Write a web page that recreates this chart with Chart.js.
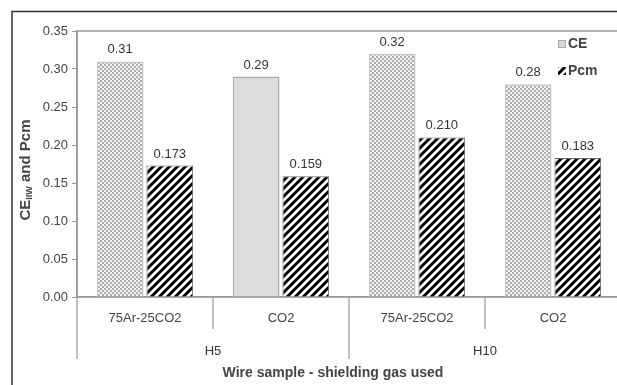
<!DOCTYPE html>
<html>
<head>
<meta charset="utf-8">
<script src="https://cdn.jsdelivr.net/npm/chart.js@4"></script>
<style>
  html, body { margin: 0; padding: 0; background: #fff; overflow: hidden; }
  #wrap { width: 666px; height: 385px; }
</style>
</head>
<body>
<div id="wrap"><canvas id="chart" width="666" height="385"></canvas></div>
<script>
  const groups = ["H5", "H10"];
  const gases = ["75Ar-25CO2", "CO2", "75Ar-25CO2", "CO2"];
  const ceValues = [0.31, 0.29, 0.32, 0.28];
  const pcmValues = [0.173, 0.159, 0.210, 0.183];
  const ceFill = ["dots", "plain", "dots", "dots"];
  const yMax = 0.35, yStep = 0.05;

  const FONT = "Arial, 'Liberation Sans', sans-serif";

  function dotPattern() {
    const c = document.createElement("canvas");
    c.width = 4; c.height = 4;
    const g = c.getContext("2d");
    g.fillStyle = "#f2f2f2"; g.fillRect(0, 0, 4, 4);
    g.fillStyle = "#b0b0b0";
    g.fillRect(0, 0, 2, 2); g.fillRect(2, 2, 2, 2);
    return g.createPattern(c, "repeat");
  }
  function hatchPattern() {
    const c = document.createElement("canvas");
    c.width = 8; c.height = 8;
    const g = c.getContext("2d");
    g.fillStyle = "#fff"; g.fillRect(0, 0, 8, 8);
    g.strokeStyle = "#000"; g.lineWidth = 3;
    g.beginPath();
    g.moveTo(-2, 10); g.lineTo(10, -2);
    g.moveTo(-6, 6); g.lineTo(6, -6);
    g.moveTo(2, 14); g.lineTo(14, 2);
    g.stroke();
    return g.createPattern(c, "repeat");
  }
  const dots = dotPattern();
  const hatch = hatchPattern();

  const decor = {
    id: "decor",
    beforeDraw(chart) {
      const { ctx, chartArea: a } = chart;
      ctx.save();
      ctx.fillStyle = "#fff";
      ctx.fillRect(0, 0, chart.width, chart.height);
      // outer frame
      ctx.strokeStyle = "#333"; ctx.lineWidth = 1.5;
      ctx.beginPath();
      ctx.moveTo(12, 400); ctx.lineTo(12, 11.5); ctx.lineTo(700, 11.5);
      ctx.stroke();
      // plot frame
      ctx.strokeStyle = "#999"; ctx.lineWidth = 1.5;
      ctx.strokeRect(a.left, a.top, a.right - a.left, a.bottom - a.top);
      ctx.restore();
    },
    afterDatasetsDraw(chart) {
      const { ctx } = chart;
      ctx.save();
      ctx.font = `13px ${FONT}`;
      ctx.fillStyle = "#333";
      ctx.textAlign = "center";
      ctx.textBaseline = "bottom";
      chart.data.datasets.forEach((ds, di) => {
        const meta = chart.getDatasetMeta(di);
        meta.data.forEach((bar, i) => {
          ctx.fillText(ds.data[i].toFixed(ds.decimals), bar.x, bar.y - 5);
        });
      });
      ctx.restore();
    },
    afterDraw(chart) {
      const { ctx, chartArea: a, scales: { x } } = chart;
      const step = x.getPixelForValue(1) - x.getPixelForValue(0);
      const per = gases.length / groups.length;
      ctx.save();
      ctx.strokeStyle = "#aaa"; ctx.lineWidth = 1.5;
      for (let i = 0; i <= gases.length; i++) {
        const px = x.getPixelForValue(0) - step / 2 + i * step;
        const len = i % per === 0 ? 62 : 32;
        ctx.beginPath(); ctx.moveTo(px, a.bottom); ctx.lineTo(px, a.bottom + len); ctx.stroke();
      }
      ctx.font = `13px ${FONT}`;
      ctx.fillStyle = "#333";
      ctx.textAlign = "center"; ctx.textBaseline = "middle";
      groups.forEach((g, gi) => {
        const px = x.getPixelForValue(gi * per) - step / 2 + per * step / 2;
        ctx.fillText(g, px, a.bottom + 54);
      });
      ctx.font = `bold 14px ${FONT}`;
      ctx.fillStyle = "#444";
      ctx.fillText("Wire sample - shielding gas used", 333, a.bottom + 76);
      // y title with subscript
      ctx.translate(25, 170);
      ctx.rotate(-Math.PI / 2);
      const parts = [["CE", 15, 0], ["IIW", 9, 4], [" and Pcm", 15, 0]];
      let total = 0;
      parts.forEach(p => { ctx.font = `bold ${p[1]}px ${FONT}`; total += ctx.measureText(p[0]).width; });
      let cx = -total / 2;
      ctx.textAlign = "left";
      parts.forEach(p => {
        ctx.font = `bold ${p[1]}px ${FONT}`;
        ctx.fillText(p[0], cx, p[2] + 1);
        cx += ctx.measureText(p[0]).width;
      });
      ctx.restore();
      // legend
      ctx.save();
      ctx.font = `bold 14px ${FONT}`;
      ctx.textBaseline = "middle";
      chart.data.datasets.forEach((ds, di) => {
        const y = 44 + di * 27;
        ctx.fillStyle = ds.legendFill;
        ctx.fillRect(558, y - 4, 8, 8);
        ctx.strokeStyle = "#aaa"; ctx.lineWidth = 1;
        if (di === 0) ctx.strokeRect(558.5, y - 3.5, 7, 7);
        ctx.fillStyle = "#444";
        ctx.fillText(ds.label, 568, y);
      });
      ctx.restore();
    }
  };

  new Chart(document.getElementById("chart"), {
    type: "bar",
    data: {
      labels: gases,
      datasets: [
        {
          label: "CE",
          data: ceValues,
          decimals: 2,
          legendFill: "#d9d9d9",
          backgroundColor: ceFill.map(f => f === "plain" ? "#dcdcdc" : dots),
          borderColor: ceFill.map(f => f === "plain" ? "#aaa" : "#c4c4c4"),
          borderWidth: 1.5,
        },
        {
          label: "Pcm",
          data: pcmValues,
          decimals: 3,
          legendFill: hatch,
          backgroundColor: hatch,
          borderColor: "#666",
          borderWidth: 1,
        },
      ],
    },
    options: {
      responsive: false,
      animation: false,
      devicePixelRatio: 1,
      layout: { padding: { left: 12, top: 31, right: 45, bottom: 0 } },
      datasets: { bar: { categoryPercentage: 0.73, barPercentage: 0.94 } },
      plugins: { legend: { display: false }, tooltip: { enabled: false } },
      scales: {
        x: {
          grid: { display: false, drawTicks: false },
          border: { display: true, color: "#999", width: 1.5 },
          ticks: { color: "#444", font: { family: FONT, size: 13 }, padding: 14, maxRotation: 0 },
          afterFit: s => { s.height = 88; },
        },
        y: {
          min: 0, max: yMax,
          grid: { drawOnChartArea: false, drawTicks: true, tickLength: 5, color: "#999" },
          border: { display: true, color: "#999", width: 1.5 },
          ticks: {
            stepSize: yStep, color: "#444", padding: 4,
            font: { family: FONT, size: 13 },
            callback: v => v.toFixed(2),
          },
          afterFit: s => { s.width = 65; },
        },
      },
    },
    plugins: [decor],
  });
</script>
</body>
</html>
